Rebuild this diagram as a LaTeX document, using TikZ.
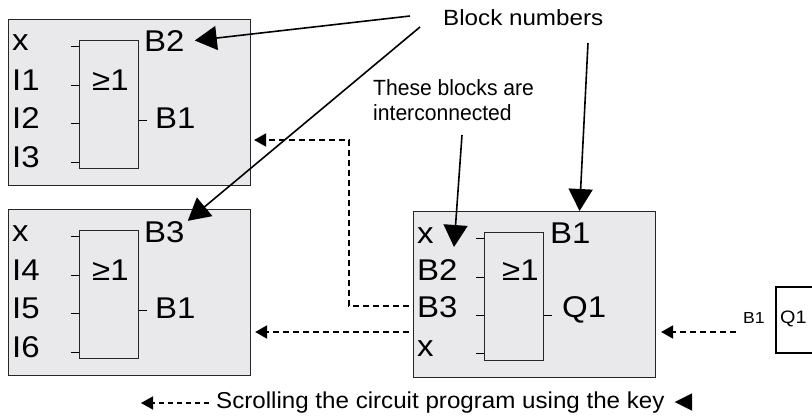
\documentclass[tikz,border=0pt]{standalone}
\usepackage{fontspec}
\setmainfont{Liberation Sans}[FakeStretch=1.1]
\newfontfamily\notefont{Liberation Sans}[FakeStretch=0.96]
\newfontfamily\keyfont{Liberation Sans}[FakeStretch=1.05]
\newfontfamily\symfont{DejaVu Sans}
\usetikzlibrary{arrows.meta}

\definecolor{panelgray}{RGB}{233,233,235}

\tikzset{
  panel/.style={draw=black!85, fill=panelgray, line width=1.1pt, minimum width=242pt,
    minimum height=166pt, inner sep=0pt, anchor=north west},
  gate/.style={draw=black!85, line width=1pt, minimum width=59pt, minimum height=128pt,
    inner sep=0pt, anchor=north west},
  pin/.style={font=\fontsize{30}{30}\selectfont, inner sep=0pt, anchor=base west},
  note/.style={font=\fontsize{22}{25}\selectfont, inner sep=0pt, align=left, anchor=west},
  pointer/.style={line width=1.6pt, -{Triangle[length=22pt,width=24pt]}},
  scroll/.style={line width=1.9pt, dash pattern=on 6pt off 4pt, -{Triangle[length=12pt,width=13pt]}},
  stub/.style={line width=1pt},
}

\begin{document}
\begin{tikzpicture}[x=1pt, y=-1pt]

  \clip (0,0) rectangle (812,418);

  % Block B2 (top left)
  \node[panel] (p1) at (8,19) {};
  \node[gate] (g1) at (79,40) {};
  \foreach \d in {6,45,83,122}
    \draw[stub] ([xshift=-8pt, yshift=-\d pt]g1.north west) -- ++(8,0);
  \draw[stub] ([yshift=-80pt]g1.north east) -- ++(8,0);
  \node[pin] (a1) at (12,50)  {x};
  \node[pin] (a2) at (12,90)  {I1};
  \node[pin] (a3) at (12,128) {I2};
  \node[pin] (a4) at (12,167) {I3};
  \node[pin] (aop) at (92,90) {≥1};
  \node[pin] (anum) at (144,51) {B2};
  \node[pin] (aout) at (155,128) {B1};

  % Block B3 (bottom left)
  \node[panel] (p2) at (8,209) {};
  \node[gate] (g2) at (79,230) {};
  \foreach \d in {6,45,83,122}
    \draw[stub] ([xshift=-8pt, yshift=-\d pt]g2.north west) -- ++(8,0);
  \draw[stub] ([yshift=-80pt]g2.north east) -- ++(8,0);
  \node[pin] (b1) at (12,241) {x};
  \node[pin] (b2) at (12,280) {I4};
  \node[pin] (b3) at (12,318) {I5};
  \node[pin] (b4) at (12,357) {I6};
  \node[pin] (bop) at (92,280) {≥1};
  \node[pin] (bnum) at (144,242) {B3};
  \node[pin] (bout) at (155,318) {B1};

  % Block B1 (right)
  \node[panel] (p3) at (413,211) {};
  \node[gate] (g3) at (484,232) {};
  \foreach \d in {6,45,83,121}
    \draw[stub] ([xshift=-8pt, yshift=-\d pt]g3.north west) -- ++(8,0);
  \draw[stub] ([yshift=-83pt]g3.north east) -- ++(8,0);
  \node[pin] (c1) at (417,243) {x};
  \node[pin] (c2) at (417,280) {B2};
  \node[pin] (c3) at (417,317) {B3};
  \node[pin] (c4) at (417,356) {x};
  \node[pin] (cop) at (502,280) {≥1};
  \node[pin] (cnum) at (550,243) {B1};
  \node[pin] (cout) at (562,317) {Q1};

  % output Q1
  \node[inner sep=0pt, anchor=base west, font=\fontsize{16}{16}\selectfont] (qin) at (743,323) {B1};
  \node[draw, line width=2pt, minimum width=60pt, minimum height=66pt, anchor=north west] (qbox) at (775,286) {};
  \node[inner sep=0pt, anchor=base west, font=\fontsize{18}{18}\selectfont] (qname) at (780,323) {Q1};

  % scrolling order
  \coordinate (qsrc) at (736,332);
  \coordinate (turn) at (349,140);
  \draw[scroll] (qsrc) -- ([xshift=5pt]p3.east |- qsrc);
  \draw[scroll] ([xshift=-4pt]p3.west |- qsrc) -- ([xshift=4pt]p2.east |- qsrc);
  \draw[scroll] ([xshift=-8pt, yshift=1pt]c3.west) -| (turn) -- ([xshift=3pt]p1.east |- turn);

  % Labels
  \node[note] (bn) at (443,18) {Block numbers};
  \node[note, font=\fontsize{22}{25}\notefont] (tb) at (373,100) {These blocks are\\interconnected};
  \coordinate (bnA) at (410,16);
  \coordinate (bnB) at (420,27);
  \coordinate (bnC) at (588,43);
  \coordinate (tbA) at (462,135);
  \coordinate (tbtip) at (454,247);
  \draw[pointer] (bnA) -- ([xshift=10pt]anum.east);
  \draw[pointer] (bnB) -- ([xshift=3pt]bnum.north east);
  \draw[pointer] (bnC) -- ([xshift=45pt]p3.north);
  \draw[pointer] (tbA) -- (tbtip);

  % Key
  \node[note, font=\fontsize{23}{23}\keyfont] (key) at (216,403)
    {Scrolling the circuit program using the key\hspace{10pt}{\symfont ◀}};
  \coordinate (keytip) at (141,403);
  \draw[scroll, line width=1.5pt, dash pattern=on 5pt off 4pt] ([xshift=-7pt]key.west) -- (keytip);

\end{tikzpicture}
\end{document}
